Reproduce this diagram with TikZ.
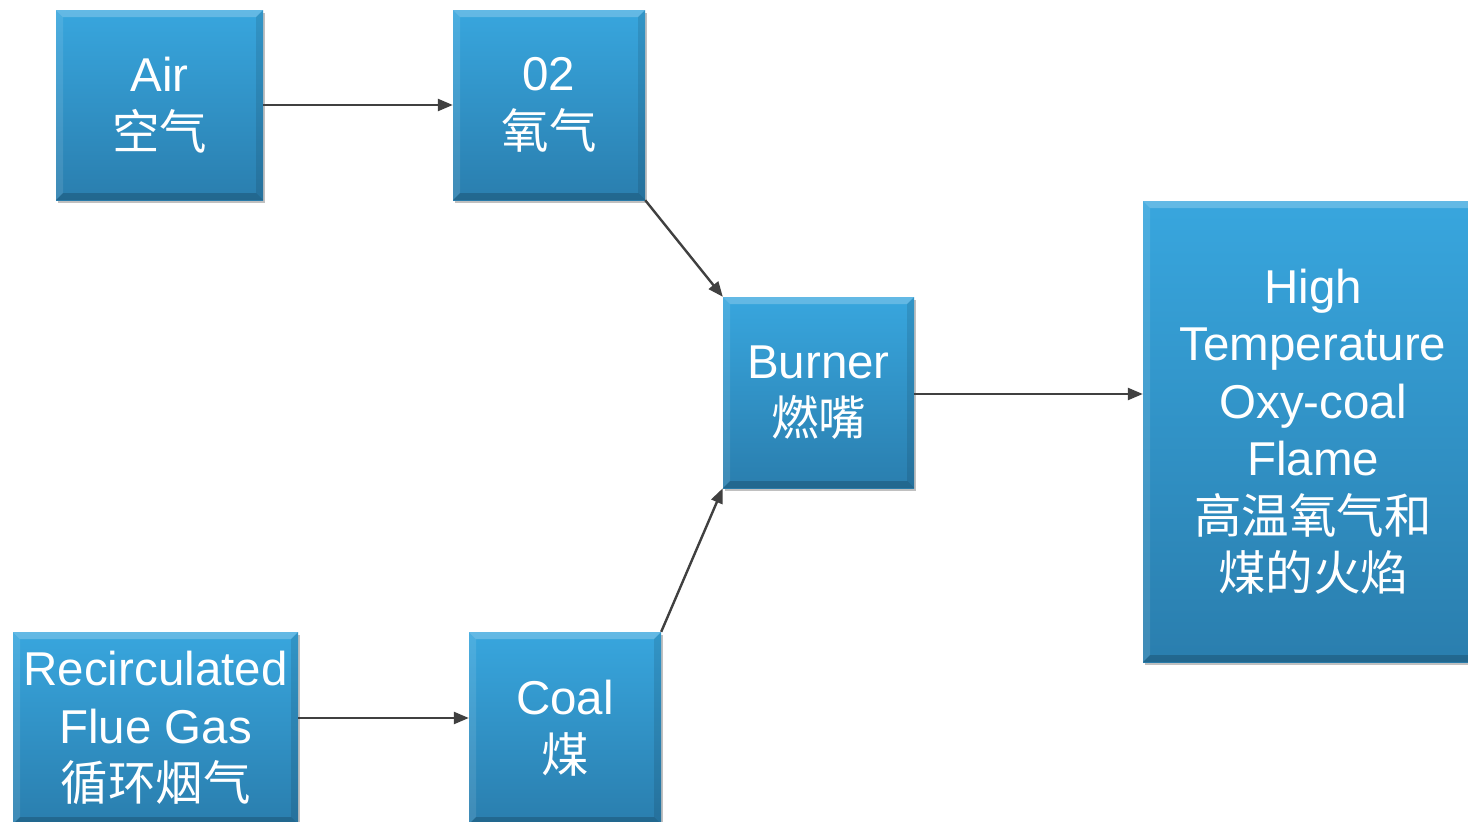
\documentclass[tikz,border=0pt]{standalone}
\usepackage{fontspec}
\setmainfont{Liberation Sans}
\newfontfamily\cjk{Noto Sans CJK SC}
\usetikzlibrary{arrows.meta,shadows}
\definecolor{boxtop}{RGB}{56,166,222}
\definecolor{boxbot}{RGB}{42,126,174}
\definecolor{arrowgray}{RGB}{64,64,64}
\tikzset{
  box/.style={rectangle, inner sep=0pt, top color=boxtop, bottom color=boxbot,
    text=white, align=center, font=\fontsize{47.5}{57.5}\selectfont,
    execute at begin node={\rule{0pt}{40pt}},
    drop shadow={shadow xshift=2pt, shadow yshift=-3pt, opacity=0.35, fill=black!70},
    path picture={
      \fill[white,opacity=0.22] (path picture bounding box.north west) -- (path picture bounding box.north east)
        -- ([xshift=-7pt,yshift=-7pt]path picture bounding box.north east) -- ([xshift=7pt,yshift=-7pt]path picture bounding box.north west) -- cycle;
      \fill[white,opacity=0.10] (path picture bounding box.north west) -- (path picture bounding box.south west)
        -- ([xshift=7pt,yshift=7pt]path picture bounding box.south west) -- ([xshift=7pt,yshift=-7pt]path picture bounding box.north west) -- cycle;
      \fill[black,opacity=0.18] (path picture bounding box.south west) -- (path picture bounding box.south east)
        -- ([xshift=-7pt,yshift=7pt]path picture bounding box.south east) -- ([xshift=7pt,yshift=7pt]path picture bounding box.south west) -- cycle;
      \fill[black,opacity=0.10] (path picture bounding box.north east) -- (path picture bounding box.south east)
        -- ([xshift=-7pt,yshift=7pt]path picture bounding box.south east) -- ([xshift=-7pt,yshift=-7pt]path picture bounding box.north east) -- cycle;
    }},
  conn/.style={draw=arrowgray, line width=2.4pt, -{Triangle[length=15pt,width=12pt]}}
}
\begin{document}
\begin{tikzpicture}[x=1pt,y=-1pt]
\clip (0,0) rectangle (1468,822);
\fill[white] (0,0) rectangle (1468,822);
\node[box, minimum width=207pt, minimum height=190pt] (air) at (159.5,105) {Air\\{\cjk 空气}};
\node[box, minimum width=192pt, minimum height=190pt] (o2) at (549,105) {02\\{\cjk 氧气}};
\node[box, minimum width=191pt, minimum height=191pt] (burner) at (818.5,392.5) {Burner\\{\cjk 燃嘴}};
\node[box, minimum width=340pt, minimum height=461pt] (flame) at (1313,431.5) {High\\Temperature\\Oxy-coal\\Flame\\{\cjk 高温氧气和}\\{\cjk 煤的火焰}};
\node[box, minimum width=285pt, minimum height=192pt] (rfg) at (155.5,728) {Recirculated\\Flue Gas\\{\cjk 循环烟气}};
\node[box, minimum width=192pt, minimum height=192pt] (coal) at (565,728) {Coal\\{\cjk 煤}};
\coordinate (bout) at ([yshift=-1.5pt]burner.east);
\coordinate (rout) at ([yshift=10pt]rfg.east);
\draw[conn] (air.east) -- (o2.west);
\draw[conn] (o2.south east) -- (burner.north west);
\draw[conn] (coal.north east) -- (burner.south west);
\draw[conn] (bout) -- (flame.west |- bout);
\draw[conn] (rout) -- (coal.west |- rout);
\end{tikzpicture}
\end{document}
